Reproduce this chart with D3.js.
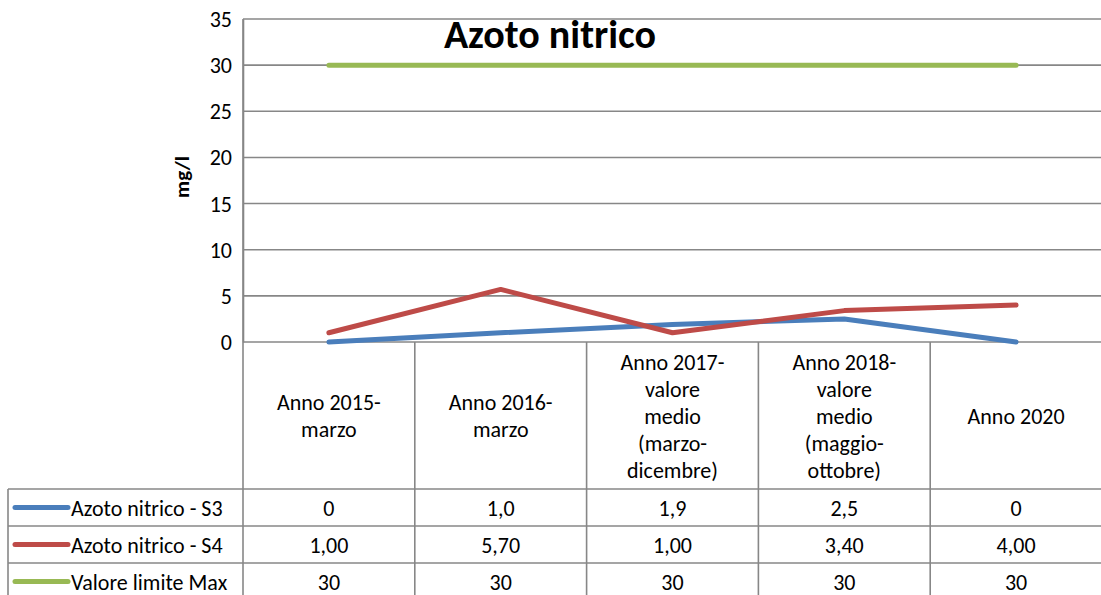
<!DOCTYPE html>
<html>
<head>
<meta charset="utf-8">
<script src="https://cdn.jsdelivr.net/npm/d3@7/dist/d3.min.js"></script>
<style>
  html, body { margin: 0; padding: 0; background: #fff; }
  svg { display: block; font-family: Carlito, Lato, "Open Sans", sans-serif; }
</style>
</head>
<body>
<svg id="chart" width="1101" height="595"></svg>
<script>
// Categories (multi-line header labels of the data table)
const categories = [
  ["Anno 2015-", "marzo"],
  ["Anno 2016-", "marzo"],
  ["Anno 2017-", "valore", "medio", "(marzo-", "dicembre)"],
  ["Anno 2018-", "valore", "medio", "(maggio-", "ottobre)"],
  ["Anno 2020"]
];

// Series
const seriesNames = ["Azoto nitrico - S3", "Azoto nitrico - S4", "Valore limite Max"];
const s3Values = [0, 1.0, 1.9, 2.5, 0];
const s4Values = [1.00, 5.70, 1.00, 3.40, 4.00];
const limitValues = [30, 30, 30, 30, 30];
const seriesColors = ["#4a7ebb", "#be4b48", "#98b954"];

// Y axis ticks
const yTicks = [0, 5, 10, 15, 20, 25, 30, 35];

const title = "Azoto nitrico";
const yTitle = "mg/l";

// Table cell formatting (Italian decimal comma)
const comma = s => s.replace(".", ",");
const formatters = [
  v => v === 0 ? "0" : comma(v.toFixed(1)),
  v => comma(v.toFixed(2)),
  v => comma(v.toFixed(0))
];

const series = [s3Values, s4Values, limitValues].map((values, i) => ({
  name: seriesNames[i], values, color: seriesColors[i], fmt: formatters[i]
}));

const svg = d3.select("#chart");
const gridColor = "#878787";
const fontSize = 22;

const plot = { left: 243, right: 1102, top: 19, bottom: 342 };
const table = { left: 8, headerBottom: 489, rowH: 37 };

const x = d3.scaleBand()
  .domain(d3.range(categories.length))
  .range([plot.left, plot.right]);

const y = d3.scaleLinear()
  .domain([0, 35])
  .range([plot.bottom, plot.top]);

// Horizontal gridlines
svg.append("g")
  .selectAll("line")
  .data(yTicks)
  .join("line")
  .attr("x1", plot.left).attr("x2", plot.right)
  .attr("y1", d => y(d)).attr("y2", d => y(d))
  .attr("stroke", gridColor).attr("stroke-width", 1.6);

// Y axis line and tick labels
const yAxis = svg.append("g")
  .attr("transform", `translate(${plot.left},0)`)
  .call(d3.axisLeft(y).tickValues(yTicks).tickSize(0).tickPadding(11));
yAxis.select(".domain").attr("stroke", gridColor).attr("stroke-width", 1.6);
yAxis.selectAll("text")
  .attr("font-family", "Carlito, Lato, 'Open Sans', sans-serif")
  .attr("font-size", fontSize).attr("fill", "#000")
  .attr("dy", "0.34em");

// Y axis title
svg.append("text")
  .attr("transform", `translate(189,${177}) rotate(-90)`)
  .attr("text-anchor", "middle")
  .attr("font-size", 21).attr("font-weight", "bold")
  .text(yTitle);

// Chart title
svg.append("text")
  .attr("x", 550).attr("y", 48)
  .attr("text-anchor", "middle")
  .attr("font-size", 40).attr("font-weight", "bold")
  .text(title);

// Data table grid
const nRows = series.length;
const tableBottom = table.headerBottom + nRows * table.rowH + 10;
const colEdges = d3.range(categories.length + 1).map(i =>
  i < categories.length ? x(i) : plot.right);

const grid = svg.append("g").attr("stroke", gridColor).attr("stroke-width", 1.6);
// vertical column separators under the plot
colEdges.forEach((cx, i) => {
  grid.append("line")
    .attr("x1", cx).attr("x2", cx)
    .attr("y1", i === 0 ? plot.top : plot.bottom)
    .attr("y2", tableBottom);
});
// left edge of the legend column
grid.append("line")
  .attr("x1", table.left).attr("x2", table.left)
  .attr("y1", table.headerBottom).attr("y2", tableBottom);
// row separators
d3.range(nRows).forEach(r => {
  const ry = table.headerBottom + r * table.rowH;
  grid.append("line")
    .attr("x1", table.left).attr("x2", plot.right)
    .attr("y1", ry).attr("y2", ry);
});

// Header labels
const lineH = 27;
const headerMid = (plot.bottom + table.headerBottom) / 2;
categories.forEach((lines, i) => {
  const cx = x(i) + x.bandwidth() / 2;
  const t = svg.append("text")
    .attr("text-anchor", "middle")
    .attr("font-size", fontSize);
  lines.forEach((ln, k) => {
    t.append("tspan")
      .attr("x", cx)
      .attr("y", headerMid + (k - (lines.length - 1) / 2) * lineH + 8)
      .text(ln);
  });
});

// Table rows: legend key, name, values
series.forEach((s, r) => {
  const cy = table.headerBottom + r * table.rowH + table.rowH / 2;
  svg.append("line")
    .attr("x1", 15).attr("x2", 68)
    .attr("y1", cy).attr("y2", cy)
    .attr("stroke", s.color).attr("stroke-width", 5)
    .attr("stroke-linecap", "round");
  svg.append("text")
    .attr("x", 71).attr("y", cy + 8)
    .attr("font-size", fontSize)
    .text(s.name);
  svg.append("g")
    .selectAll("text")
    .data(s.values)
    .join("text")
    .attr("x", (d, i) => x(i) + x.bandwidth() / 2)
    .attr("y", cy + 8)
    .attr("text-anchor", "middle")
    .attr("font-size", fontSize)
    .text(d => s.fmt(d));
});

// Series lines
const line = d3.line()
  .x((d, i) => x(i) + x.bandwidth() / 2)
  .y(d => y(d));

[series[2], series[0], series[1]].forEach(s => {
  svg.append("path")
    .datum(s.values)
    .attr("d", line)
    .attr("fill", "none")
    .attr("stroke", s.color)
    .attr("stroke-width", 5)
    .attr("stroke-linecap", "round")
    .attr("stroke-linejoin", "round");
});
</script>
</body>
</html>
